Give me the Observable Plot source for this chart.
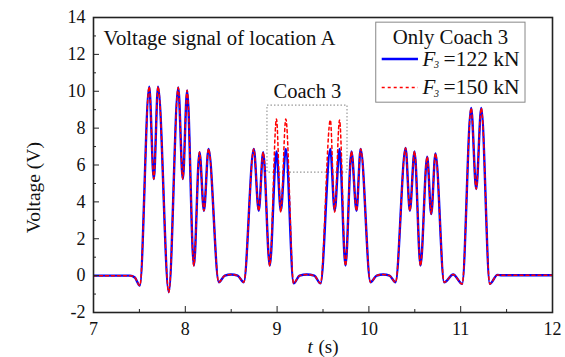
<!DOCTYPE html>
<html><head><meta charset="utf-8">
<script src="https://cdn.jsdelivr.net/npm/d3@7"></script>
<script src="https://cdn.jsdelivr.net/npm/@observablehq/plot@0.6"></script>
<style>
body{margin:0;background:#fff}
#chart svg, #chart svg text{font-family:"Liberation Serif","Times New Roman","DejaVu Serif",serif !important;}
</style>
</head><body><div id="chart"></div>
<script>
// time (s)
const time = [7.00, 7.40, 7.45, 7.505, 7.607, 7.657, 7.703, 7.82, 7.923, 7.973, 8.02, 8.093, 8.155, 8.203, 8.253,
  8.365, 8.43, 8.50, 8.57, 8.637, 8.746, 8.80, 8.848, 8.92, 8.993, 9.04, 9.095,
  9.18, 9.245, 9.325, 9.405, 9.473, 9.58, 9.627, 9.68, 9.745, 9.81, 9.865, 9.91,
  10.017, 10.085, 10.155, 10.225, 10.29, 10.40, 10.446, 10.497, 10.562, 10.635, 10.679, 10.725,
  10.82, 10.918, 11.016, 11.114, 11.169, 11.224, 11.317, 11.40, 11.45, 12.0];
// F3 = 122 kN (V)
const blue = [0, 0, -0.1, -0.54, 10.25, 5.24, 10.25, -0.9, 10.2, 5.24, 10.05, 0.54, 6.7, 3.52, 6.87,
  -0.36, 0.0, 0.06, 0.0, -0.36, 6.87, 3.52, 6.69, 0.54, 6.74, 3.52, 6.87,
  -0.42, 0.0, 0.06, 0.0, -0.42, 6.87, 3.52, 6.87, 0.54, 6.74, 3.52, 6.87,
  -0.36, 0.0, 0.06, 0.0, -0.36, 6.92, 3.52, 6.74, 0.54, 6.45, 3.34, 6.63,
  -0.36, 0.06, -0.45, 9.09, 4.7, 9.09, -0.45, 0.04, 0.02, 0.02];
// F3 = 150 kN (V)
const red = [0, 0, -0.1, -0.54, 10.25, 5.24, 10.25, -0.9, 10.2, 5.24, 10.05, 0.54, 6.7, 3.52, 6.87,
  -0.36, 0.0, 0.06, 0.0, -0.36, 6.87, 3.52, 6.69, 0.54, 8.5, 3.45, 8.5,
  -0.42, 0.0, 0.06, 0.0, -0.42, 8.44, 3.45, 8.44, 0.54, 6.74, 3.52, 6.87,
  -0.36, 0.0, 0.06, 0.0, -0.36, 6.92, 3.52, 6.74, 0.54, 6.45, 3.34, 6.63,
  -0.36, 0.06, -0.45, 9.09, 4.7, 9.09, -0.45, 0.04, 0.02, 0.02];

const xTicks = [7, 8, 9, 10, 11, 12];
const xMinor = [7.5, 8.5, 9.5, 10.5, 11.5];
const yTicks = [-2, 0, 2, 4, 6, 8, 10, 12, 14];
const yMinor = [-1, 1, 3, 5, 7, 9, 11, 13];
const legendTitle = "Only Coach 3";
const legendLabels = ["=122 kN", "=150 kN"];
const chartTitle = "Voltage signal of location A";
const boxLabel = "Coach 3";

const rows = time.map((t, i) => ({t, blue: blue[i], red: red[i]}));
const BLUE = "#0000ff", RED = "#ff0000";
const serif = "'Liberation Serif', 'Times New Roman', 'DejaVu Serif', serif";

const chart = Plot.plot({
  width: 565, height: 357,
  marginLeft: 93, marginRight: 13, marginTop: 17, marginBottom: 45,
  x: {domain: [7, 12]},
  y: {domain: [-2, 14]},
  style: {fontFamily: serif, fontSize: "18px", color: "#111", background: "#fff"},
  marks: [
    // Coach 3 dotted box
    Plot.rect([0], {x1: 8.895, x2: 9.767, y1: 5.59, y2: 9.22, fill: "none", stroke: "#999", strokeWidth: 1.2, strokeDasharray: "1.5,2"}),
    Plot.text([boxLabel], {x: 9.33, y: 10.0, text: d => d, fontSize: 20.5, textAnchor: "middle", lineAnchor: "middle", fill: "#111"}),
    Plot.text([chartTitle], {x: 7.11, y: 12.85, text: d => d, fontSize: 20.8, textAnchor: "start", lineAnchor: "middle", fill: "#111"}),
    // curves
    Plot.line(rows, {x: "t", y: "blue", stroke: BLUE, strokeWidth: 2.4, curve: "monotone-x", clip: true}),
    Plot.line(rows, {x: "t", y: "red", stroke: RED, strokeWidth: 1.5, strokeDasharray: "3,3", curve: "monotone-x", clip: true}),
    // legend
    Plot.rect([0], {x1: 10.08, x2: 11.706, y1: 9.38, y2: 13.72, fill: "#fff", stroke: "#888", strokeWidth: 1}),
    Plot.text([legendTitle], {x: 10.889, y: 12.93, text: d => d, fontSize: 20.8, textAnchor: "middle", lineAnchor: "middle", fill: "#111"}),
    Plot.ruleY([11.75], {x1: 10.145, x2: 10.54, stroke: BLUE, strokeWidth: 2.4}),
    Plot.ruleY([10.21], {x1: 10.145, x2: 10.54, stroke: RED, strokeWidth: 1.5, strokeDasharray: "3,3"}),
    Plot.text([11.75, 10.21], {x: 10.584, y: d => d, text: () => "F", fontSize: 21, fontStyle: "italic", textAnchor: "start", lineAnchor: "middle", fill: "#111"}),
    Plot.text([11.75, 10.21], {x: 10.584, y: d => d, text: () => "3", dx: 11.5, dy: 6, fontSize: 10, fontStyle: "italic", textAnchor: "start", lineAnchor: "middle", fill: "#111"}),
    Plot.text([0, 1], {x: 10.584, y: i => [11.75, 10.21][i], text: i => legendLabels[i], dx: 21, fontSize: 21.5, textAnchor: "start", lineAnchor: "middle", fill: "#111"}),
    // axes
    Plot.axisX({ticks: xTicks, tickSize: -6, tickPadding: 16, tickFormat: d => d, label: null, fontSize: 18, stroke: "#222"}),
    Plot.axisX({ticks: xMinor, tickSize: -3, tickFormat: () => "", label: null, stroke: "#222"}),
    Plot.axisY({ticks: yTicks, tickSize: -6, tickPadding: 14, tickFormat: d => d, label: null, fontSize: 18, stroke: "#222"}),
    Plot.axisY({ticks: yMinor, tickSize: -3, tickFormat: () => "", label: null, stroke: "#222"}),
    Plot.frame({stroke: "#222", strokeWidth: 1.6}),
    // axis titles
    Plot.text(["Voltage (V)"], {x: 7, y: 4.77, text: d => d, dx: -60, rotate: -90, fontSize: 19.5, textAnchor: "middle", lineAnchor: "middle", fill: "#111", clip: false}),
    Plot.text(["t"], {x: 9.5, y: -2, text: d => d, dx: -15.5, dy: 34, fontSize: 19, fontStyle: "italic", textAnchor: "start", lineAnchor: "middle", fill: "#111"}),
    Plot.text(["(s)"], {x: 9.5, y: -2, text: d => d, dx: -4.5, dy: 34, fontSize: 19, textAnchor: "start", lineAnchor: "middle", fill: "#111"})
  ]
});
document.getElementById("chart").appendChild(chart);
</script>
</body></html>
